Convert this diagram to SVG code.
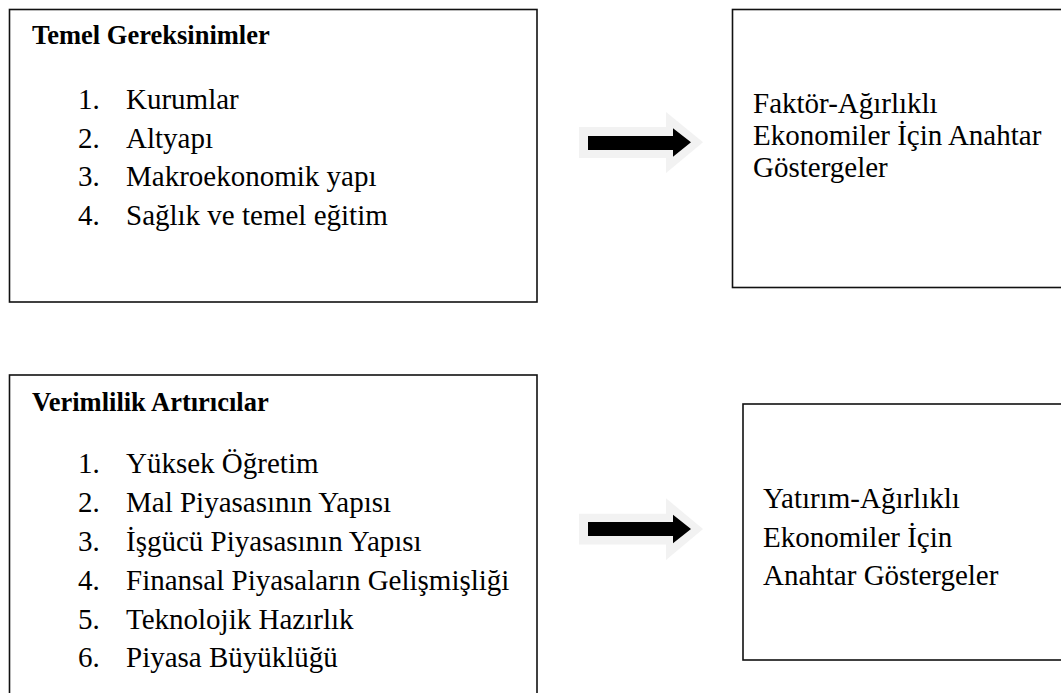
<svg xmlns="http://www.w3.org/2000/svg" width="1061" height="693" viewBox="0 0 1061 693">
<style>
.box{fill:#fff;stroke:#111;stroke-width:1.6}
.t{font-family:'Times New Roman','Liberation Serif',serif;font-size:29px;fill:#000}
.h{font-family:'Times New Roman','Liberation Serif',serif;font-size:26.5px;font-weight:bold;fill:#000}
.sh{fill:#f2f2f2}
.ar{fill:#000}
</style>
<rect width="1061" height="693" fill="#fff"/>
<g id="connectors">
<polygon class="sh" points="579,127 666,127 666,112 703,142.3 666,173 666,158 579,158"/>
<polygon class="ar" points="588,136 673,136 673,128.3 691,142.3 673,156.7 673,150 588,150"/>
<polygon class="sh" points="579,513.7 666,513.7 666,498.3 703,529 666,560 666,544.5 579,544.5"/>
<polygon class="ar" points="588,522 673,522 673,514.8 691,529 673,543.3 673,536 588,536"/>
</g>
<g id="temel">
<rect class="box" x="9.5" y="9.5" width="527.5" height="292.5"/>
<text class="h" x="32" y="44">Temel Gereksinimler</text>
<text class="t" x="78" y="109">1.</text><text class="t" x="126" y="109">Kurumlar</text>
<text class="t" x="78" y="147.5">2.</text><text class="t" x="126" y="147.5">Altyapı</text>
<text class="t" x="78" y="186">3.</text><text class="t" x="126" y="186">Makroekonomik yapı</text>
<text class="t" x="78" y="225">4.</text><text class="t" x="126" y="225">Sağlık ve temel eğitim</text>
</g>
<g id="faktor">
<rect class="box" x="732.5" y="9.5" width="340" height="278"/>
<text class="t" x="753" y="113">Faktör-Ağırlıklı</text>
<text class="t" x="753" y="145">Ekonomiler İçin Anahtar</text>
<text class="t" x="753" y="177">Göstergeler</text>
</g>
<g id="verimlilik">
<rect class="box" x="9.5" y="375" width="527.5" height="330"/>
<text class="h" x="32" y="410.5">Verimlilik Artırıcılar</text>
<text class="t" x="78" y="473">1.</text><text class="t" x="126" y="473">Yüksek Öğretim</text>
<text class="t" x="78" y="512">2.</text><text class="t" x="126" y="512">Mal Piyasasının Yapısı</text>
<text class="t" x="78" y="551">3.</text><text class="t" x="126" y="551">İşgücü Piyasasının Yapısı</text>
<text class="t" x="78" y="590">4.</text><text class="t" x="126" y="590">Finansal Piyasaların Gelişmişliği</text>
<text class="t" x="78" y="628.5">5.</text><text class="t" x="126" y="628.5">Teknolojik Hazırlık</text>
<text class="t" x="78" y="667">6.</text><text class="t" x="126" y="667">Piyasa Büyüklüğü</text>
</g>
<g id="yatirim">
<rect class="box" x="743" y="404" width="340" height="256"/>
<text class="t" x="763" y="508">Yatırım-Ağırlıklı</text>
<text class="t" x="763" y="547">Ekonomiler İçin</text>
<text class="t" x="763" y="585">Anahtar Göstergeler</text>
</g>
</svg>
